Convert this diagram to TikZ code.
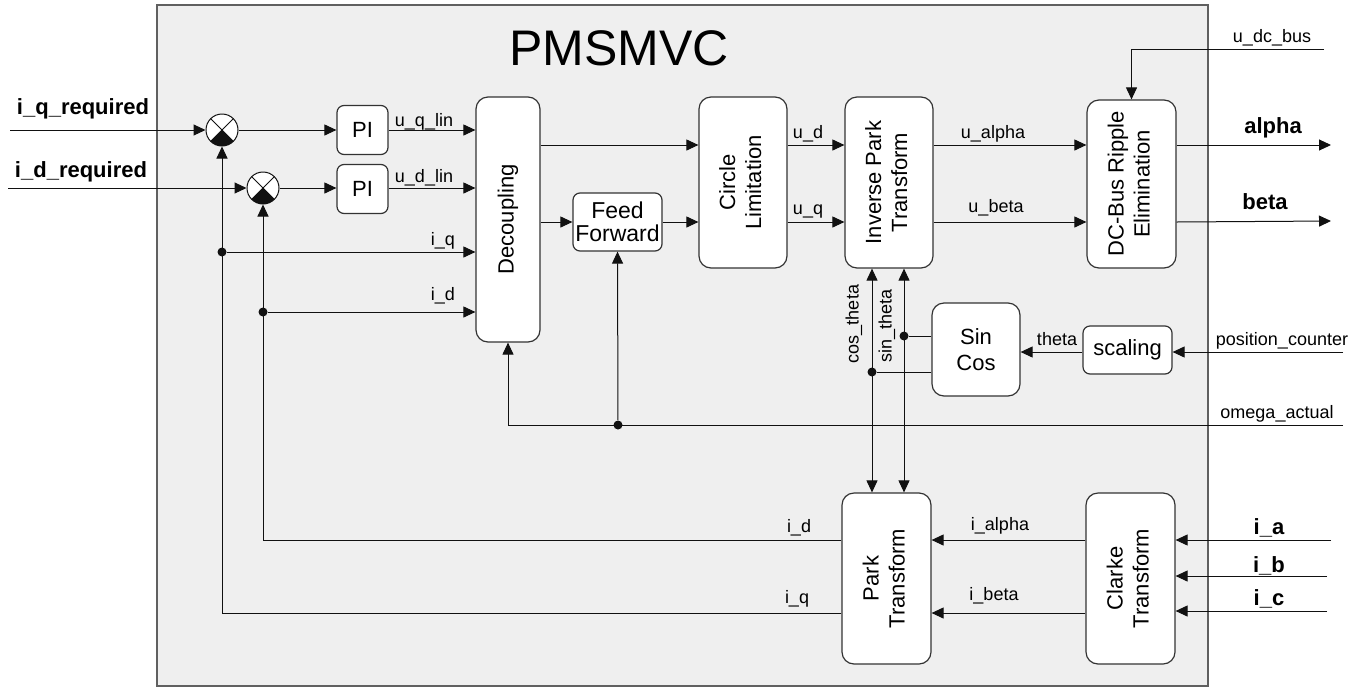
\documentclass[tikz,border=0pt]{standalone}
\usepackage{fontspec}
\setmainfont{Liberation Sans}
\usepackage{graphicx}
\usetikzlibrary{arrows.meta}
\definecolor{bgc}{HTML}{EFEFEF}
\definecolor{framec}{HTML}{606060}
\definecolor{boxc}{HTML}{333333}
\definecolor{linec}{HTML}{111111}
\begin{document}
\begin{tikzpicture}[x=1pt,y=-1pt,
  line width=1pt,
  arr/.style={draw=linec,-{Triangle[length=12pt,width=11pt]}},
  darr/.style={draw=linec,{Triangle[length=12pt,width=11pt]}-{Triangle[length=12pt,width=11pt]}},
  plain/.style={draw=linec},
  blk/.style={draw=boxc, fill=white, rounded corners=12pt, inner sep=0pt, line width=1.2pt,
    font=\fontsize{22}{26}\selectfont, align=center},
  sblk/.style={blk, rounded corners=7pt},
  lbl/.style={font=\fontsize{18}{20}\selectfont, anchor=base, inner sep=0pt},
  blbl/.style={font=\fontsize{22}{24}\selectfont\bfseries, anchor=base, inner sep=0pt},
  sumj/.style={circle, draw=linec, fill=white, minimum size=32pt, inner sep=0pt},
  jdot/.style={circle, fill=linec, minimum size=9pt, inner sep=0pt}
]
\useasboundingbox (0,0) rectangle (1362,694);
% frame
\fill[bgc, draw=framec, line width=1.2pt] (157,5) rectangle (1208,686);
\node[font=\fontsize{50}{50}\selectfont, anchor=base west, inner sep=0pt] (title) at (509,65) {PMSMVC};

% rows
\coordinate (rA) at (0,130);
\coordinate (rB) at (0,188);
\coordinate (rC) at (0,145);
\coordinate (rD) at (0,222);
\coordinate (rE) at (0,252);
\coordinate (rF) at (0,312);
\coordinate (rG) at (0,336);
\coordinate (rH) at (0,352);
\coordinate (rI) at (0,372);
\coordinate (rK) at (0,540);
\coordinate (rL) at (0,613);

% summing junctions
\node[sumj] (s1) at (222,130) {};
\node[sumj] (s2) at (263,188) {};
\foreach \s in {s1,s2}{
  \fill[linec] (\s.center) -- ++(-135:16pt) arc[start angle=-135, end angle=-45, radius=16pt] -- cycle;
  \draw[linec] (\s.center) ++(45:16pt) -- ++(225:32pt);
  \draw[linec] (\s.center) ++(135:16pt) -- ++(-45:32pt);
}

% blocks
\node[sblk, minimum width=51pt, minimum height=49pt] (pi1) at (362.5,130) {PI};
\node[sblk, minimum width=51pt, minimum height=49pt] (pi2) at (362.5,189) {PI};
\node[blk, minimum width=64pt, minimum height=245pt] (dec) at (508,219.5) {\rotatebox{90}{Decoupling}};
\node[sblk, minimum width=89pt, minimum height=58pt, font=\fontsize{23}{25}\selectfont] (ff) at (617.5,222) {Feed\\[-2pt]Forward};
\node[blk, minimum width=88pt, minimum height=171pt] (cl) at (743,182.5) {\rotatebox{90}{\begin{tabular}{@{}c@{}}Circle\\Limitation\end{tabular}}};
\node[blk, minimum width=88pt, minimum height=171pt] (ip) at (889,182.5) {\rotatebox{90}{\begin{tabular}{@{}c@{}}Inverse Park\\Transform\end{tabular}}};
\node[blk, minimum width=89pt, minimum height=168pt] (dcb) at (1131.5,184) {\rotatebox{90}{\begin{tabular}{@{}c@{}}DC-Bus Ripple\\Elimination\end{tabular}}};
\node[blk, minimum width=88pt, minimum height=93pt] (sc) at (976,349.5) {Sin\\Cos};
\node[sblk, minimum width=89pt, minimum height=48pt] (sca) at (1127.5,350) {scaling};
\node[blk, minimum width=89pt, minimum height=171pt] (park) at (886.5,578.5) {\rotatebox{90}{\begin{tabular}{@{}c@{}}Park\\Transform\end{tabular}}};
\node[blk, minimum width=89pt, minimum height=171pt] (clk) at (1130.5,578.5) {\rotatebox{90}{\begin{tabular}{@{}c@{}}Clarke\\Transform\end{tabular}}};

% external coordinates
\coordinate (iqin) at (10,130);
\coordinate (idin) at (8,188);
\coordinate (udc) at (1324,49);
\coordinate (alout) at (1331,145);
\coordinate (beout) at (1331,221);
\coordinate (pcin) at (1343,352);
\coordinate (omin) at (1343,425);
\coordinate (iain) at (1331,540);
\coordinate (ibin) at (1327,576);
\coordinate (icin) at (1327,611);

% junction dots
\node[jdot] (j1) at (222,252) {};
\node[jdot] (j2) at (263,312) {};
\node[jdot] (j3) at (618,425) {};
\node[jdot] (j4) at (904,336) {};
\node[jdot] (j5) at (872,372) {};

% left inputs
\draw[arr] (iqin) -- (s1);
\draw[arr] (idin) -- (s2);
\node[blbl] (liq) at (83,114) {i\_q\_required};
\node[blbl] (lid) at (81,177) {i\_d\_required};

\draw[arr] (s1) -- (pi1);
\draw[arr] (s2) -- (pi2.west |- s2);
\draw[arr] (pi1) -- (pi1 -| dec.west);
\draw[arr] (pi2.east |- rB) -- (dec.west |- rB);
\node[lbl] (luql) at (424,126) {u\_q\_lin};
\node[lbl] (ludl) at (424,182) {u\_d\_lin};

\draw[arr] (j1) -- (j1 -| dec.west);
\draw[arr] (j2) -- (j2 -| dec.west);
\node[lbl] (liq2) at (443,245) {i\_q};
\node[lbl] (lid2) at (443,300) {i\_d};

% decoupling outputs
\draw[arr] (dec.east |- rC) -- (cl.west |- rC);
\draw[arr] (dec.east |- rD) -- (ff.west |- rD);
\draw[arr] (ff.east |- rD) -- (cl.west |- rD);

% circle limitation outputs
\draw[arr] (cl.east |- rC) -- (ip.west |- rC);
\draw[arr] (cl.east |- rD) -- (ip.west |- rD);
\node[lbl] (lud) at (808,138) {u\_d};
\node[lbl] (luq) at (808,214) {u\_q};

% inverse park outputs
\draw[arr] (ip.east |- rC) -- (dcb.west |- rC);
\draw[arr] (ip.east |- rD) -- (dcb.west |- rD);
\node[lbl] (lua) at (993,138) {u\_alpha};
\node[lbl] (lub) at (996,212) {u\_beta};

% dc bus
\draw[arr] (udc) -| (dcb.north);
\node[lbl] (ludc) at (1272,42) {u\_dc\_bus};
\draw[arr] (dcb.east |- rC) -- (alout);
\draw[arr] (dcb.east |- rD) -- (beout);
\node[blbl] (lal) at (1273,133) {alpha};
\node[blbl] (lbe) at (1265,209) {beta};

% omega
\draw[arr] (omin) -| (dec.south);
\draw[arr] (j3) -- (ff.south);
\node[lbl] (lom) at (1277,418) {omega\_actual};

% sin cos
\draw[darr] (park.north -| j5) -- (ip.south -| j5);
\draw[darr] (park.north -| j4) -- (ip.south -| j4);
\draw[plain] (sc.west |- rG) -- (j4);
\draw[plain] (sc.west |- rI) -- (j5);
\node[lbl, rotate=90, anchor=center] (lcos) at (854,324) {cos\_theta};
\node[lbl, rotate=90, anchor=center] (lsin) at (887,326) {sin\_theta};
\draw[arr] (sca.west |- rH) -- (sc.east |- rH);
\node[lbl] (lth) at (1057,345) {theta};
\draw[arr] (pcin) -- (sca.east |- pcin);
\node[lbl] (lpc) at (1282,345) {position\_counter};

% park / clarke
\draw[arr] (clk.west |- rK) -- (park.east |- rK);
\draw[arr] (clk.west |- rL) -- (park.east |- rL);
\node[lbl] (lia) at (1000,530) {i\_alpha};
\node[lbl] (lib) at (994,600) {i\_beta};
\draw[arr] (park.west |- rK) -| (s2.south);
\draw[arr] (park.west |- rL) -| (s1.south);
\node[lbl] (lid3) at (799,532) {i\_d};
\node[lbl] (liq3) at (797,603) {i\_q};

% clarke inputs
\draw[arr] (iain) -- (clk.east |- iain);
\draw[arr] (ibin) -- (clk.east |- ibin);
\draw[arr] (icin) -- (clk.east |- icin);
\node[blbl] (la) at (1269,534) {i\_a};
\node[blbl] (lb) at (1269,572) {i\_b};
\node[blbl] (lc) at (1269,605) {i\_c};
\end{tikzpicture}
\end{document}
